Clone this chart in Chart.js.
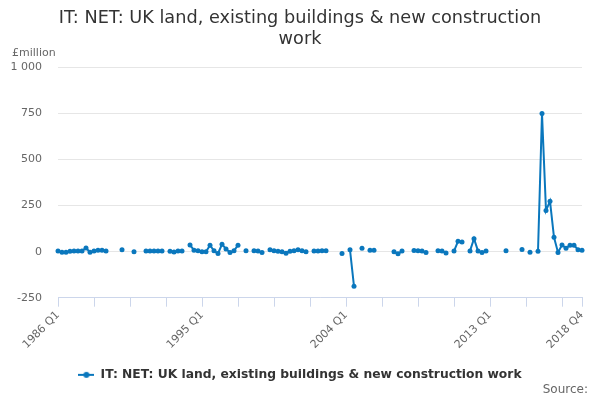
<!DOCTYPE html>
<html>
<head>
<meta charset="utf-8">
<script src="https://cdn.jsdelivr.net/npm/chart.js@4.4.0/dist/chart.umd.min.js"></script>
<style>
  html, body { margin: 0; padding: 0; background: #fff; }
  #wrap { position: relative; width: 600px; height: 400px; }
  #unit { position: absolute; left: 12px; top: 46px; font: 11px "DejaVu Sans"; color: #666; }
  #source { position: absolute; right: 12px; top: 382px; font: 12px "DejaVu Sans"; color: #666; }
</style>
</head>
<body>
<div id="wrap">
  <canvas id="chart" width="600" height="400"></canvas>
  <div id="unit">£million</div>
  <div id="source">Source:</div>
</div>
<script>
const titleLines = ["IT: NET: UK land, existing buildings & new construction", "work"];
const seriesName = "IT: NET: UK land, existing buildings & new construction work";
const firstYear = 1986;
const lastYear = 2018;
const shownTicks = ["1986 Q1", "1995 Q1", "2004 Q1", "2013 Q1", "2018 Q4"];
const yTicks = [-250, 0, 250, 500, 750, 1000];

// one value per quarter, 1986 Q1 .. 2018 Q4 (null = no data)
const values = [
  3, -3, -3, 2,        4, 4, 4, 20,         -3, 4, 8, 7,         3, null, null, null,      // 1986-1989
  10, null, null, 0,   null, null, 3, 3,    3, 3, 3, null,       2, -2, 3, 3,              // 1990-1993
  null, 36, 8, 5,      0, 0, 35, 5,         -10, 40, 15, -5,     5, 35, null, 5,           // 1994-1997
  null, 5, 4, -5,      null, 10, 5, 2,      0, -8, 2, 5,         10, 5, 0, null,           // 1998-2001
  3, 3, 5, 5,          null, null, null, -10, null, 10, -188, null, 18, null, 8, 8,        // 2002-2005
  null, null, null, null, 0, -12, 3, null, null, 6, 5, 4,         -5, null, null, 5,        // 2006-2009
  3, -7, null, 3,      56, 53, null, 4,     70, 4, -4, 3,        null, null, null, null,   // 2010-2013
  5, null, null, null, 12, null, -3, null,  2, 750, 223, 274,    78, -4, 36, 18,           // 2014-2017
  35, 35, 11, 7                                                                          // 2018
];

const labels = [];
for (let y = firstYear; y <= lastYear; y++) {
  for (let q = 1; q <= 4; q++) labels.push(`${y} Q${q}`);
}

const blue = "#0a77bd";
const font = "DejaVu Sans";

// legend marker: short line with a dot
const marker = document.createElement("canvas");
marker.width = 16;
marker.height = 8;
const mctx = marker.getContext("2d");
mctx.strokeStyle = blue;
mctx.lineWidth = 2;
mctx.beginPath();
mctx.moveTo(0, 4);
mctx.lineTo(16, 4);
mctx.stroke();
mctx.fillStyle = blue;
mctx.beginPath();
mctx.arc(8, 4, 3, 0, Math.PI * 2);
mctx.fill();

function tickMark(ctx) {
  const i = ctx.index;
  return (i % 9 === 0 || i === labels.length - 1) ? "#ccd6eb" : "rgba(0,0,0,0)";
}

new Chart(document.getElementById("chart"), {
  type: "line",
  data: {
    labels,
    datasets: [{
      label: seriesName,
      data: values,
      borderColor: blue,
      backgroundColor: blue,
      borderWidth: 2,
      pointRadius: 2.5,
      pointBorderWidth: 0,
      pointBackgroundColor: blue,
      tension: 0,
      spanGaps: false
    }]
  },
  options: {
    responsive: false,
    animation: false,
    devicePixelRatio: 1,
    layout: { padding: { left: 9, right: 9, top: 0, bottom: 9 } },
    plugins: {
      title: {
        display: true,
        text: titleLines,
        color: "#333",
        font: { family: font, size: 17.7, weight: "normal", lineHeight: 1.2 },
        padding: { top: 8, bottom: 17 }
      },
      legend: {
        position: "bottom",
        labels: {
          usePointStyle: true,
          pointStyle: marker,
          pointStyleWidth: 16,
          color: "#333",
          font: { family: font, size: 12.3, weight: "bold" },
          padding: 10
        }
      },
      tooltip: { enabled: false }
    },
    scales: {
      x: {
        offset: false,
        ticks: {
          autoSkip: false,
          maxRotation: 45,
          minRotation: 45,
          color: "#666",
          font: { family: font, size: 11 },
          padding: 2,
          callback: (v, i) => shownTicks.includes(labels[i]) ? labels[i] : ""
        },
        grid: { drawOnChartArea: false, tickLength: 9, color: tickMark, tickColor: tickMark },
        border: { color: "#ccd6eb", width: 1 },
        afterFit: (s) => { s.height = 61; }
      },
      y: {
        min: yTicks[0],
        max: yTicks[yTicks.length - 1],
        ticks: {
          stepSize: 250,
          padding: 16,
          color: "#666",
          font: { family: font, size: 11 },
          callback: (v) => Math.abs(v) >= 1000 ? String(v).replace(/(\d)(\d{3})$/, "$1 $2") : String(v)
        },
        grid: { color: "#e6e6e6", drawTicks: false },
        border: { display: false },
        afterFit: (s) => { s.width = 49; }
      },
      // empty right-hand spacer so the plot ends where the reference does
      spacer: {
        type: "linear",
        position: "right",
        display: true,
        ticks: { display: false },
        grid: { display: false, drawTicks: false },
        border: { display: false },
        afterFit: (s) => { s.width = 9; }
      }
    }
  }
});
</script>
</body>
</html>
